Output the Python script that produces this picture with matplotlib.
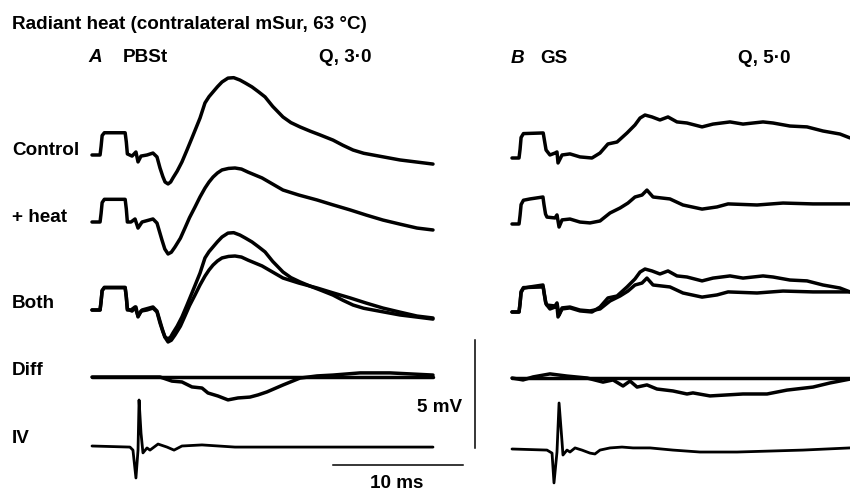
import matplotlib
matplotlib.use("Agg")
import matplotlib.pyplot as plt
import numpy as np

# ---------------- data (time in ms from trace start, potential in mV from baseline) ----------------
# Panel A: PBSt
a_control_t = [0, 0.62, 0.70, 0.78, 0.95, 2.55, 2.64, 2.72, 3.08, 3.38, 3.54, 3.77, 4.23, 4.69, 5.0, 5.23,
               5.45, 5.62, 5.85, 6.05, 6.23, 6.55, 6.92, 7.3, 7.69, 8.31, 8.69, 9.0, 9.31, 9.65, 10.0,
               10.46, 10.9, 11.38, 11.8, 12.31, 12.8, 13.31, 13.9, 14.69, 15.3, 16.0, 16.8, 17.54,
               18.54, 19.3, 20.08, 20.9, 21.62, 22.7, 23.69, 24.9, 26.23]
a_control_v = [0, 0, 0.4, 0.9, 1.03, 1.03, 0.6, 0.05, -0.05, 0.14, -0.32, -0.05, 0, 0.09, -0.09, -0.6,
               -1.0, -1.25, -1.34, -1.25, -1.06, -0.75, -0.32, 0.22, 0.79, 1.71, 2.41, 2.7, 2.92, 3.16, 3.38,
               3.56, 3.58, 3.47, 3.33, 3.15, 2.93, 2.69, 2.25, 1.76, 1.5, 1.30, 1.1, 0.93,
               0.69, 0.45, 0.23, 0.08, 0, -0.12, -0.23, -0.32, -0.42]

a_heat_t = [0, 0.62, 0.70, 0.78, 0.95, 2.55, 2.64, 2.72, 3.0, 3.31, 3.54, 3.85, 4.69, 5.0, 5.38, 5.6,
            5.85, 6.1, 6.38, 6.8, 7.15, 7.5, 7.92, 8.3, 8.69, 9.0, 9.31, 9.65, 10.0, 10.5, 11.0, 11.5,
            12.0, 13.08, 14.69, 15.9, 17.31, 18.5, 19.85, 21.1, 22.38, 23.7, 25.0, 26.23]
a_heat_v = [0, 0, 0.4, 0.9, 1.05, 1.05, 0.6, 0, 0, 0.14, -0.28, 0, 0.14, -0.05, -0.83, -1.25,
            -1.48, -1.4, -1.16, -0.75, -0.28, 0.2, 0.69, 1.15, 1.57, 1.85, 2.08, 2.27, 2.41, 2.48, 2.5, 2.45,
            2.31, 2.04, 1.48, 1.25, 1.02, 0.8, 0.56, 0.32, 0.09, -0.1, -0.28, -0.37]

a_diff_t = [0, 5.23, 6.15, 6.92, 7.69, 8.46, 8.92, 9.69, 10.46, 11.23, 12.15, 12.77, 13.46, 14.69, 16.0,
            17.31, 18.54, 20.62, 22.92, 26.23]
a_diff_v = [0, 0, -0.19, -0.23, -0.46, -0.51, -0.74, -0.88, -1.06, -0.97, -0.93, -0.83, -0.69, -0.37, -0.05,
            0.05, 0.09, 0.19, 0.19, 0.09]

a_iv_t = [0, 2.92, 3.15, 3.38, 3.54, 3.62, 3.77, 3.92, 4.23, 4.46, 5.08, 5.77, 6.31, 6.92, 8.46, 11.0, 13.31, 26.23]
a_iv_v = [0, -0.05, -0.19, -1.48, -0.19, 2.13, 0.6, -0.32, -0.09, -0.19, 0.09, -0.05, -0.19, 0, 0.05, -0.05, -0.05, -0.05]

# Panel B: GS
b_control_t = [0, 0.54, 0.62, 0.70, 0.88, 2.40, 2.50, 2.62, 2.92, 3.31, 3.46, 3.54, 3.85, 4.46, 5.23, 6.15,
               6.77, 7.38, 8.08, 8.85, 9.46, 9.85, 10.23, 10.77, 11.38, 12.0, 12.69, 13.46, 14.62, 15.46,
               16.77, 17.77, 19.31, 20.08, 21.38, 22.69, 23.92, 25.23, 26.0]
b_control_v = [0, 0, 0.4, 0.95, 1.13, 1.16, 0.8, 0.37, 0.14, 0.23, 0.28, -0.23, 0.14, 0.19, 0.05, 0,
               0.23, 0.65, 0.74, 1.16, 1.53, 1.85, 1.99, 1.90, 1.76, 1.90, 1.67, 1.62, 1.44, 1.57,
               1.67, 1.57, 1.67, 1.62, 1.48, 1.44, 1.25, 1.11, 0.93]

b_heat_t = [0, 0.54, 0.62, 0.70, 0.88, 1.38, 2.38, 2.46, 2.58, 2.69, 3.31, 3.46, 3.62, 3.85, 4.46, 5.23,
            6.0, 6.77, 7.54, 8.31, 8.92, 9.46, 10.0, 10.38, 10.85, 12.15, 13.15, 14.62, 15.77, 16.62,
            18.85, 20.85, 23.15, 26.0]
b_heat_v = [0, 0, 0.4, 0.9, 1.1, 1.16, 1.25, 0.9, 0.46, 0.32, 0.28, 0.42, -0.14, 0.19, 0.23, 0.09,
            0.05, 0.14, 0.51, 0.74, 0.97, 1.25, 1.34, 1.57, 1.25, 1.16, 0.88, 0.69, 0.79, 0.93,
            0.88, 0.97, 0.93, 0.93]

b_diff_t = [0, 0.85, 1.62, 2.92, 4.23, 5.77, 7.0, 7.77, 8.54, 9.08, 9.62, 10.38, 11.15, 12.38, 13.46,
            13.92, 15.23, 17.77, 19.62, 21.15, 23.15, 24.46, 26.0]
b_diff_v = [0, -0.09, 0.05, 0.19, 0.09, 0, -0.19, -0.09, -0.37, -0.14, -0.42, -0.32, -0.51, -0.60, -0.74,
            -0.69, -0.83, -0.74, -0.74, -0.56, -0.42, -0.23, -0.05]

b_iv_t = [0, 2.69, 3.08, 3.23, 3.46, 3.62, 3.85, 3.92, 4.23, 4.46, 4.85, 5.38, 6.0, 6.38, 6.77, 7.54,
          8.46, 9.31, 10.62, 12.38, 14.46, 17.31, 22.38, 26.0]
b_iv_v = [0, -0.05, -0.19, -1.57, -0.14, 2.13, 0.32, -0.28, -0.05, -0.14, 0.05, -0.05, -0.19, -0.23, -0.05, 0.05,
          0.09, 0.05, 0.05, -0.05, -0.14, -0.14, -0.05, 0.05]

trace_len_ms = [26.23, 26.0]          # duration of the zero line in the Diff rows (A, B)
row_labels = ["Control", "+ heat", "Both", "Diff", "IV"]
scale_ms = 10
scale_mv = 5

# ---------------- layout ----------------
W, H = 850, 491
PX_MS = 13.0      # pixels per ms
PX_MV = 21.6      # pixels per mV

fig = plt.figure(figsize=(W / 100, H / 100), dpi=100)
ax = fig.add_axes([0, 0, 1, 1])
ax.set_xlim(0, W / PX_MS)
ax.set_ylim(-H / PX_MV, 0)
ax.axis("off")

def ms(px):
    return px / PX_MS

def mv(py):
    return -py / PX_MV

panelA_x = ms(92)
panelB_x = ms(512)
rowsA = [mv(155), mv(222), mv(310), mv(377), mv(446)]
rowsB = [mv(158), mv(224), mv(312), mv(378), mv(449)]

LW = 2.5
col = "black"

def trace(x0, y0, t, v, lw=LW):
    ax.plot(x0 + np.asarray(t), y0 + np.asarray(v), color=col, lw=lw,
            solid_joinstyle="round", solid_capstyle="round")

for x0, rows, ctl, heat, diff, iv, L in [
    (panelA_x, rowsA, (a_control_t, a_control_v), (a_heat_t, a_heat_v), (a_diff_t, a_diff_v), (a_iv_t, a_iv_v), trace_len_ms[0]),
    (panelB_x, rowsB, (b_control_t, b_control_v), (b_heat_t, b_heat_v), (b_diff_t, b_diff_v), (b_iv_t, b_iv_v), trace_len_ms[1]),
]:
    trace(x0, rows[0], *ctl)
    trace(x0, rows[1], *heat)
    trace(x0, rows[2], *ctl)
    trace(x0, rows[2], *heat)
    trace(x0, rows[3], [0, L], [0, 0])
    trace(x0, rows[3], *diff)
    trace(x0, rows[4], *iv, lw=2.0)

# scale bars
bar_x = ms(475)
bar_y0 = mv(448)
ax.plot([bar_x, bar_x], [bar_y0, bar_y0 + scale_mv], color=col, lw=1.1)
hb_y = mv(465)
hb_x0 = ms(333)
ax.plot([hb_x0, hb_x0 + scale_ms], [hb_y, hb_y], color=col, lw=1.1)

# ---------------- text ----------------
FONT = "Liberation Sans"
FS = 13.6

def txt(x, y, s, **kw):
    kw.setdefault("fontsize", FS)
    fig.text(x / W, 1 - y / H, s, family=FONT, va="baseline", ha="left", color=col,
             fontweight="bold", **kw)

txt(12, 29, "Radiant heat (contralateral mSur, 63 °C)")
txt(88, 62, "A", style="italic")
txt(123, 62, "PBSt")
txt(319, 62, "Q, 3·0")
txt(511, 63, "B", style="italic")
txt(540, 63, "GS")
txt(738, 63, "Q, 5·0")

for lab, yb in zip(row_labels, [155, 222, 308, 375, 443]):
    txt(12, yb, lab)

txt(417, 412, f"{scale_mv} mV")
txt(370, 488, f"{scale_ms} ms")

fig.savefig("out.png", dpi=100)
